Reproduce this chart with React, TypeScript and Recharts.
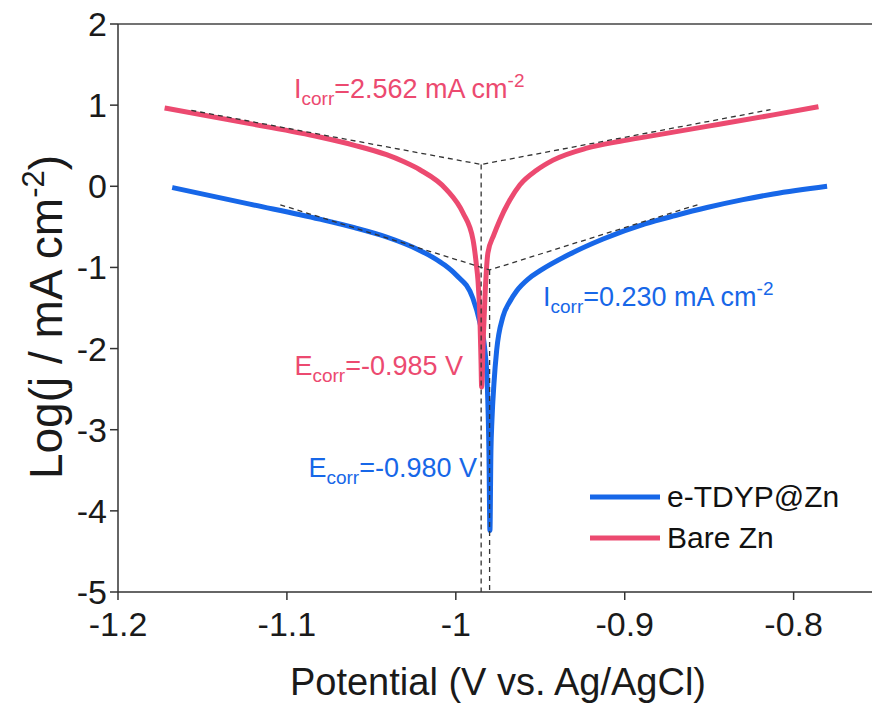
import { Legend, Line, LineChart, ReferenceLine, XAxis, YAxis } from 'recharts';

// Potentiodynamic polarization (Tafel) curves.
const bareZnPotential = [
  -1.1724, -1.122, -1.0806, -1.06, -1.041, -1.031, -1.0213, -1.0054, -0.9958, -0.9898,
  -0.9877, -0.9869, -0.9857, -0.9851, -0.9847, -0.9838, -0.9826, -0.981, -0.9775, -0.9739,
  -0.968, -0.962, -0.952, -0.9424, -0.9225, -0.9027, -0.8849, -0.8513, -0.812, -0.7853,
];
const bareZnLogJ = [
  0.965, 0.772, 0.607, 0.505, 0.389, 0.305, 0.204, -0.043, -0.327, -0.66,
  -0.99, -1.154, -1.65, -2.14, -2.475, -1.9, -1.3, -0.821, -0.6, -0.414,
  -0.17, 0.018, 0.2, 0.322, 0.47, 0.555, 0.618, 0.738, 0.88, 0.98,
];
const tdypPotential = [
  -1.1679, -1.122, -1.0806, -1.06, -1.041, -1.0213, -1.0136, -1.0066, -0.9999, -0.9899,
  -0.9857, -0.9828, -0.9814, -0.9804, -0.9798, -0.9792, -0.9786, -0.9774, -0.9758, -0.9721,
  -0.968, -0.964, -0.957, -0.9501, -0.9324, -0.9128, -0.888, -0.87, -0.8513, -0.83,
  -0.812, -0.7802,
];
const tdypLogJ = [
  -0.015, -0.22, -0.405, -0.51, -0.625, -0.79, -0.875, -0.97, -1.09, -1.38,
  -1.685, -2.019, -2.426, -3.253, -4.241, -3.253, -2.88, -2.426, -2.019, -1.607,
  -1.42, -1.29, -1.14, -1.04, -0.835, -0.65, -0.463, -0.36, -0.262, -0.165,
  -0.095, 0.0,
];

// Tafel extrapolation lines (cathodic end, intersection, anodic end) and Ecorr drops.
const bareTafelPotential = [-1.1566, -0.985, -0.8137];
const bareTafelLogJ = [0.936, 0.269, 0.944];
const tdypTafelPotential = [-1.1039, -0.98, -0.8557];
const tdypTafelLogJ = [-0.228, -1.031, -0.22];
const bareEcorrDrop = [0.269, -5];
const tdypEcorrDrop = [-1.031, -5];

const xTicks = [-1.2, -1.1, -1, -0.9, -0.8];
const yTicks = [2, 1, 0, -1, -2, -3, -4, -5];
const legendOrder = ['e-TDYP@Zn', 'Bare Zn'];

const BLUE = '#1767e8';
const PINK = '#ec4a70';
const FONT = '"Liberation Sans", Arial, Helvetica, sans-serif';

const toPoints = (xs: number[], ys: number[]) => xs.map((x, i) => ({ x, y: ys[i] }));

const bareZn = toPoints(bareZnPotential, bareZnLogJ);
const tdyp = toPoints(tdypPotential, tdypLogJ);
const bareTafel = toPoints(bareTafelPotential, bareTafelLogJ);
const tdypTafel = toPoints(tdypTafelPotential, tdypTafelLogJ);
const bareDrop = bareEcorrDrop.map((y) => ({ x: -0.985, y }));
const tdypDrop = tdypEcorrDrop.map((y) => ({ x: -0.98, y }));

function CorrLabel({ x, y, sym, text, sup, color, anchor }: any) {
  return (
    <text x={x} y={y} fill={color} fontSize={27} fontFamily={FONT} textAnchor={anchor}>
      {sym}
      <tspan fontSize={19} dy={7}>corr</tspan>
      <tspan dy={-7}>{text}</tspan>
      {sup && <tspan fontSize={19} dy={-11}>{sup}</tspan>}
    </text>
  );
}

function LegendBox(props: any) {
  const items = (props.payload || [])
    .filter((p: any) => legendOrder.includes(p.value))
    .sort((a: any, b: any) => legendOrder.indexOf(a.value) - legendOrder.indexOf(b.value));
  return (
    <div style={{ fontFamily: FONT, fontSize: 30, color: '#111' }}>
      {items.map((p: any) => (
        <div key={p.value} style={{ display: 'flex', alignItems: 'center', height: 41 }}>
          <svg width={70} height={6} style={{ marginRight: 7 }}>
            <line x1={0} y1={3} x2={70} y2={3} stroke={p.color} strokeWidth={5} />
          </svg>
          <span>{p.value}</span>
        </div>
      ))}
    </div>
  );
}

export default function App() {
  const tick = { fontSize: 34, fill: '#1a1a1a', fontFamily: FONT };
  const dashed = { stroke: '#333', strokeWidth: 1.3, strokeDasharray: '5 4' };
  return (
    <div style={{ position: 'absolute', left: 0, top: 0, width: 872, height: 706, background: '#fff' }}>
      <LineChart width={872} height={706} margin={{ top: 24, right: 0, bottom: 0, left: 0 }}>
        <XAxis
          type="number"
          dataKey="x"
          domain={[-1.2, -0.7536]}
          ticks={xTicks}
          allowDataOverflow
          tickFormatter={(v: number) => String(v)}
          tick={tick}
          tickSize={8}
          tickMargin={12}
          height={114}
          stroke="#333"
          strokeWidth={1.5}
        />
        <YAxis
          type="number"
          dataKey="y"
          domain={[-5, 2]}
          ticks={yTicks}
          allowDataOverflow
          tick={tick}
          tickSize={8}
          tickMargin={3}
          width={118}
          stroke="#333"
          strokeWidth={1.5}
        />
        <ReferenceLine y={2} stroke="#444" strokeWidth={1.5} />
        <Line data={tdyp} dataKey="y" name="e-TDYP@Zn" type="monotone" stroke={BLUE} strokeWidth={5} dot={false} isAnimationActive={false} />
        <Line data={bareZn} dataKey="y" name="Bare Zn" type="monotone" stroke={PINK} strokeWidth={5} dot={false} isAnimationActive={false} />
        <Line data={bareTafel} dataKey="y" type="linear" {...dashed} dot={false} legendType="none" isAnimationActive={false} />
        <Line data={tdypTafel} dataKey="y" type="linear" {...dashed} dot={false} legendType="none" isAnimationActive={false} />
        <Line data={bareDrop} dataKey="y" type="linear" {...dashed} dot={false} legendType="none" isAnimationActive={false} />
        <Line data={tdypDrop} dataKey="y" type="linear" {...dashed} dot={false} legendType="none" isAnimationActive={false} />
        <Legend
          layout="vertical"
          align="center"
          verticalAlign="middle"
          content={<LegendBox />}
          wrapperStyle={{ position: 'absolute', left: 590, top: 476, width: 'auto', height: 'auto' }}
        />
      </LineChart>
      <svg width={872} height={706} style={{ position: 'absolute', left: 0, top: 0, pointerEvents: 'none' }}>
        <CorrLabel x={294} y={98} sym="I" text="=2.562 mA cm" sup="-2" color={PINK} anchor="start" />
        <CorrLabel x={543} y={306} sym="I" text="=0.230 mA cm" sup="-2" color={BLUE} anchor="start" />
        <CorrLabel x={463} y={375} sym="E" text="=-0.985 V" color={PINK} anchor="end" />
        <CorrLabel x={477} y={477} sym="E" text="=-0.980 V" color={BLUE} anchor="end" />
        <text x={498} y={695} fill="#1a1a1a" fontSize={38} fontFamily={FONT} textAnchor="middle">
          Potential (V vs. Ag/AgCl)
        </text>
        <text
          transform="translate(62,317) rotate(-90)"
          fill="#1a1a1a"
          fontSize={46}
          fontFamily={FONT}
          textAnchor="middle"
        >
          Log(j / mA cm<tspan fontSize={31} dy={-18}>-2</tspan>
          <tspan dy={18}>)</tspan>
        </text>
      </svg>
    </div>
  );
}
